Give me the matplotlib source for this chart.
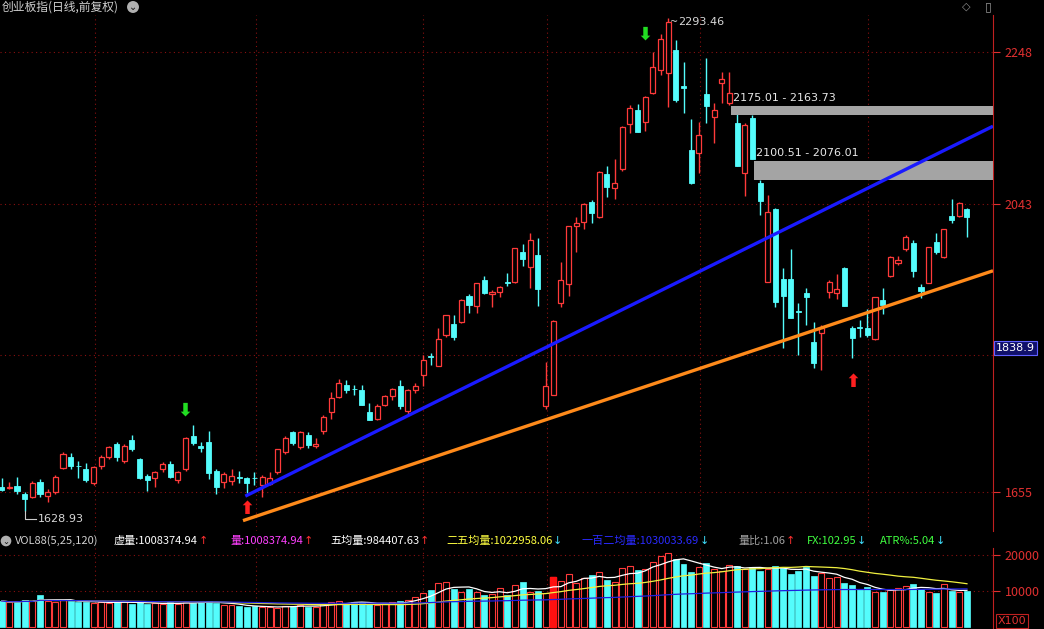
import numpy as np
import pandas as pd
import matplotlib
matplotlib.use("Agg")
import matplotlib.pyplot as plt
from matplotlib.patches import Rectangle

plt.rcParams['font.family'] = ['Noto Sans CJK SC', 'DejaVu Sans']

# ---------------- data ----------------
opens = [1662,1660,1663,1652,1648,1668,1649,1654,1687,1702,1690,1685,1667,1689,1702,1720,1697,1725,1699,1676,
         1673,1685,1692,1671,1685,1730,1716,1722,1683,1668,1670,1675,1673,1674,1664,1665,1681,1708,1735,1715,
         1731,1717,1737,1762,1783,1799,1794,1792,1763,1753,1772,1784,1797,1764,1792,1812,1838,1825,1866,1881,
         1884,1919,1905,1941,1922,1924,1938,1938,1978,1958,1974,1770,1786,1910,1935,2014,2019,2046,2025,2083,
         2065,2090,2151,2170,2153,2193,2224,2220,2251,2202,2116,2112,2191,2160,2206,2179,2152,2085,2159,2071,
         1938,2036,1942,1942,1899,1923,1857,1869,1924,1923,1957,1876,1877,1876,1861,1914,1946,1964,1982,1991,
         1931,1937,1992,1972,2027,2027,2036]
closes = [1657,1662,1656,1645,1667,1652,1654,1675,1706,1689,1689,1671,1688,1702,1715,1702,1716,1712,1674,1671,
          1681,1692,1675,1681,1727,1721,1714,1680,1662,1679,1676,1674,1667,1673,1675,1673,1712,1727,1721,1735,
          1718,1719,1756,1781,1802,1792,1793,1772,1752,1771,1784,1794,1770,1792,1798,1833,1837,1861,1893,1864,
          1914,1907,1937,1923,1925,1931,1937,1984,1969,1994,1928,1797,1885,1941,2013,2018,2043,2031,2086,2066,
          2071,2147,2173,2140,2188,2228,2266,2288,2183,2200,2071,2136,2175,2170,2212,2193,2094,2150,2104,2047,
          2032,1911,1919,1889,1897,1918,1829,1876,1938,1929,1906,1862,1876,1866,1917,1907,1972,1968,1999,1953,
          1926,1985,1978,2009,2021,2045,2026]
highs = [1674,1668,1675,1655,1669,1672,1658,1677,1708,1707,1697,1694,1689,1705,1717,1722,1720,1731,1700,1679,
         1683,1695,1697,1683,1729,1745,1722,1737,1685,1681,1685,1683,1675,1681,1677,1681,1712,1730,1737,1737,
         1735,1727,1758,1789,1807,1805,1799,1799,1775,1773,1786,1795,1806,1794,1801,1840,1842,1876,1893,1893,
         1915,1921,1937,1946,1927,1933,1950,1984,1989,2004,1997,1830,1887,1965,2014,2025,2045,2049,2087,2094,
         2104,2148,2177,2178,2189,2248,2273,2293.46,2264,2235,2158,2154,2240,2179,2221,2221,2166,2152,2163,2075,
         2055,2037,1957,1982,1910,1930,1884,1880,1940,1949,1958,1878,1887,1901,1918,1930,1973,1973,2001,1995,
         1935,1985,2004,2010,2050,2046,2037]
lows = [1656,1658,1652,1628.93,1647,1648,1641,1652,1685,1686,1673,1668,1664,1686,1699,1697,1694,1710,1672,1656,
        1662,1681,1673,1667,1683,1718,1708,1672,1652,1660,1664,1667,1653,1664,1648,1664,1679,1706,1718,1712,
        1714,1714,1733,1753,1781,1788,1785,1772,1752,1752,1770,1779,1766,1760,1788,1798,1826,1824,1864,1860,
        1882,1896,1896,1922,1904,1918,1933,1936,1960,1930,1906,1766,1786,1904,1919,1978,2010,2018,2024,2052,
        2050,2088,2139,2140,2142,2192,2217,2174,2181,2166,2070,2085,2152,2125,2179,2177,2094,2054,2104,2028,
        1938,1904,1849,1889,1840,1880,1822,1819,1916,1915,1905,1835,1864,1864,1860,1895,1945,1961,1980,1945,
        1916,1936,1975,1970,2018,2026,1999]
volumes = [7200,6800,7000,7400,7100,9000,7300,6900,7500,7200,
           6800,7000,6600,7000,6700,6900,7100,6500,6800,6400,
           6600,6300,6800,6500,7000,6700,6900,7200,6600,6100,
           6000,5800,5600,5700,5500,5600,5400,5900,5800,6200,
           5600,5500,6400,6800,7200,6600,7000,6900,6300,6100,
           6600,6800,7300,7600,8200,9400,10200,12200,12600,10500,
           9800,10400,9600,8900,9200,10800,9000,11600,12400,9600,
           10100,9500,14000,12800,14800,12200,13600,14400,15200,13000,
           12600,16400,16800,15800,16200,18000,19600,20600,18800,17400,
           15200,16600,17800,16000,15400,17200,17000,16200,16600,15600,
           16200,17000,16400,14800,15400,16600,14200,15000,13600,13800,
           12200,11600,10400,11000,9800,9600,10200,10800,11400,11900,
           10600,9800,9400,11800,10000,9700,10000]
blue_trend_idx = [31.8, 129.4]
blue_trend_price = [1649, 2148]
orange_trend_idx = [31.5, 129.4]
orange_trend_price = [1616, 1953]
zones = [(95.2, 2175.01, 2163.73), (98.2, 2100.51, 2076.01)]
price_ticks = [2248, 2043, 1839, 1655]
price_labels = ['2248', '2043', '', '1655']
vol_ticks = [10000, 20000]
month_lines = [12.2, 33.2, 55.0, 71.2, 91.2, 113.1]

RED = '#ff3a3a'
CYAN = '#54fcfc'
GRID = '#8a1010'

n = len(opens)
x = np.arange(n)
o = np.array(opens, float); c = np.array(closes, float)
h = np.array(highs, float); l = np.array(lows, float)
v = np.array(volumes, float)
up = c >= o

fig = plt.figure(figsize=(10.44, 6.29), dpi=100, facecolor='black')
W, H = 1044, 629
XR = 993
ax = fig.add_axes([0, 1 - 531 / H, XR / W, (531 - 15) / H], facecolor='black')
axv = fig.add_axes([0, 0, XR / W, (629 - 548) / H], facecolor='black')

xlim = (-0.22, 129.4)
for a in (ax, axv):
    a.set_xlim(*xlim)
    for s in ['left', 'top', 'bottom']:
        a.spines[s].set_visible(False)
    a.spines['right'].set_color('#c02020')
    a.tick_params(axis='x', bottom=False, labelbottom=False)
    a.yaxis.tick_right()
    a.tick_params(axis='y', colors='#e03030', labelsize=9, length=5, width=0.8)
    for m in month_lines:
        a.axvline(m, color=GRID, ls=(0, (1, 3)), lw=0.8, zorder=0)

ax.set_ylim(1602, 2298)
ax.set_yticks(price_ticks)
ax.set_yticklabels(price_labels)
for t in price_ticks:
    ax.axhline(t, color=GRID, ls=(0, (1, 3)), lw=0.8, zorder=0)

bw = 0.66
cols = np.where(up, RED, CYAN)
ax.vlines(x, l, h, colors=cols, lw=1, zorder=2)
ax.bar(x[up], c[up] - o[up], bottom=o[up], width=bw, facecolor='black', edgecolor=RED, lw=0.9, zorder=3)
ax.bar(x[~up], o[~up] - c[~up], bottom=c[~up], width=bw, facecolor=CYAN, edgecolor=CYAN, lw=0.6, zorder=3)

# zones
for x0, top, bot in zones:
    ax.add_patch(Rectangle((x0, bot), xlim[1] - x0, top - bot, facecolor='#a4a4a4', edgecolor='none', zorder=4))
    ax.text(x0 + 0.3, top + 4, f"{top:.2f} - {bot:.2f}", color='#e8e8e8', fontsize=8, va='bottom', ha='left',
            family='DejaVu Sans', zorder=6)

ax.plot(blue_trend_idx, blue_trend_price, color='#1a1aff', lw=2.4, zorder=5, solid_capstyle='butt')
ax.plot(orange_trend_idx, orange_trend_price, color='#ff8a1a', lw=2.4, zorder=5, solid_capstyle='butt')

# arrows
def arrow(xi, yp, color, down):
    ax.text(xi, yp, '⬇' if down else '⬆', color=color, fontsize=13, ha='center', va='center',
            family='DejaVu Sans', zorder=6, fontweight='bold')
arrow(23.9, 1765, '#22dd22', True)
arrow(84.0, 2271, '#22dd22', True)
arrow(32.0, 1631, '#ff2020', False)
arrow(111.1, 1803, '#ff2020', False)

# extreme labels
ax.text(87.3, 2289, '~', color='#d8d8d8', fontsize=7, va='center', family='DejaVu Sans')
ax.text(88.3, 2288, '2293.46', color='#d8d8d8', fontsize=8, va='center', family='DejaVu Sans')
ax.plot([3, 3, 4.5], [1629, 1618, 1618], color='#cccccc', lw=0.8, zorder=5)
ax.text(4.7, 1618, '1628.93', color='#d8d8d8', fontsize=8, va='center', family='DejaVu Sans')

# current price label
ax.text(1.003, (1838.9 - 1602) / (2298 - 1602) + 0.014, '1838.9', transform=ax.transAxes, color='white', fontsize=8,
        va='center', ha='left', family='DejaVu Sans', zorder=10,
        bbox=dict(boxstyle='square,pad=0.2', facecolor='#10106a', edgecolor='#6060ff', lw=0.8), clip_on=False)

# volume
axv.set_ylim(-550, 21900)
axv.set_yticks(vol_ticks)
axv.set_yticklabels([str(t) for t in vol_ticks])
for t in vol_ticks:
    axv.axhline(t, color=GRID, ls=(0, (1, 3)), lw=0.8, zorder=0)
vw = 0.78
axv.bar(x[up], v[up], width=vw, facecolor='black', edgecolor=RED, lw=0.8, zorder=2)
axv.bar(x[~up], v[~up], width=vw, facecolor=CYAN, edgecolor=CYAN, lw=0.5, zorder=2)
axv.bar([72], [v[72]], width=vw, facecolor='#ff1010', edgecolor='#ff1010', zorder=3)
vs = pd.Series(v)
axv.plot(x, vs.rolling(5, min_periods=1).mean(), color='white', lw=0.9, zorder=4)
axv.plot(x, vs.rolling(25, min_periods=1).mean(), color='#f0f040', lw=0.9, zorder=4)
axv.plot(x, vs.rolling(120, min_periods=1).mean(), color='#2020e0', lw=0.9, zorder=4)
axv.text(1.005, 0.1, 'X100', transform=axv.transAxes, color='#e03030', fontsize=8, va='center', ha='left',
         family='DejaVu Sans', bbox=dict(boxstyle='square,pad=0.15', facecolor='black', edgecolor='#c02020', lw=0.8),
         clip_on=False)

# title and header
fig.text(2 / W, 1 - 7 / H, '创业板指(日线,前复权)', color='#d0d0d0', fontsize=8.5, va='center', ha='left')
fig.text(133 / W, 1 - 7 / H, '⌄', color='#111', fontsize=7, va='center', ha='center',
         bbox=dict(boxstyle='circle,pad=0.1', facecolor='#b0b0b0', edgecolor='none'))
fig.text(966 / W, 1 - 7 / H, '◇', color='#909090', fontsize=8, va='center', ha='center', family='DejaVu Sans')
fig.text(988 / W, 1 - 7 / H, '▯', color='#909090', fontsize=9, va='center', ha='center', family='DejaVu Sans')

hy = 1 - 541 / H
fig.text(6 / W, hy, '⌄', color='#111', fontsize=6, va='center', ha='center',
         bbox=dict(boxstyle='circle,pad=0.1', facecolor='#b0b0b0', edgecolor='none'))
items = [
    (15, 'VOL88(5,25,120)', '#d0d0d0', ''),
    (114, '虚量:1008374.94', '#ffffff', '↑'),
    (230, '量:1008374.94', '#ff40ff', '↑'),
    (330, '五均量:984407.63', '#ffffff', '↑'),
    (446, '二五均量:1022958.06', '#ffff40', '↓'),
    (582, '一百二均量:1030033.69', '#2a2aff', '↓'),
    (738, '量比:1.06', '#a0a0a0', '↑'),
    (807, 'FX:102.95', '#40ff40', '↓'),
    (880, 'ATR%:5.04', '#40ff40', '↓'),
]
r = fig.canvas.get_renderer()
for px, s, col, arr in items:
    t = fig.text(px / W, hy, s, color=col, fontsize=8, va='center', ha='left')
    if arr:
        bb = t.get_window_extent(renderer=r)
        fig.text(bb.x1 / W + 0.5 / W, hy, arr, color='#ff3030' if arr == '↑' else '#40e0ff', fontsize=8,
                 va='center', ha='left', family='DejaVu Sans')

fig.savefig('out.png', dpi=100, facecolor='black')
